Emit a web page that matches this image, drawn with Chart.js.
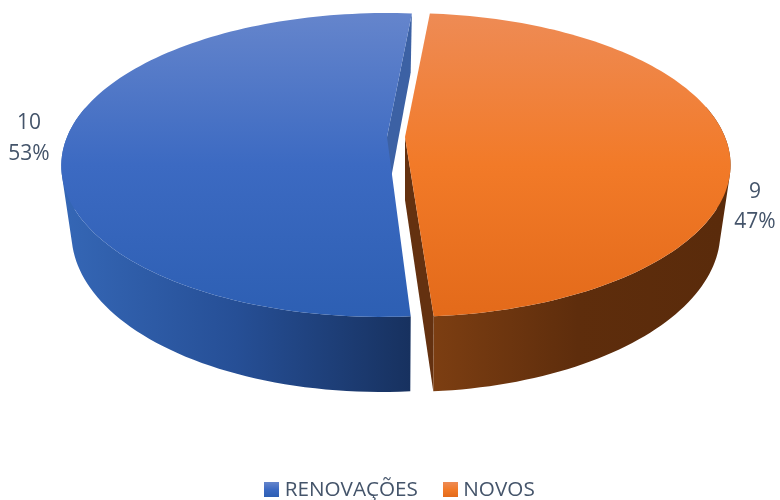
<!DOCTYPE html>
<html>
<head>
<meta charset="utf-8">
<script src="https://cdn.jsdelivr.net/npm/chart.js@4"></script>
<style>html,body{margin:0;padding:0;background:#fff}#wrap{width:780px;height:500px}</style>
</head>
<body>
<div id="wrap"><canvas id="c" width="780" height="500"></canvas></div>
<script>
const categories = ['RENOVAÇÕES', 'NOVOS'];
const seriesValues = [10, 9];
const baseColors = ['#3a6bc4', '#ed7d31'];

const FONT = '"Open Sans", "Noto Sans", sans-serif';
const TEXT = '#44546a';
const ROTATION = 175.8;
const top3d = {y0: 137, k: 146.8, p: -0.184, K: 320};
const bot3d = {y0: 200, k: 153.6, p: -0.2, K: 309};
const EXPLODE = 9, CENTER_SHIFT = -6;
const styles = [
  {top: [[0, '#6585cc'], [.5, '#3c6ac2'], [1, '#2d5fb3']],
   side: ['#3567b6', '#264f96', '#17315f'], sx: [61, 411], wall: '#3c61a4', frontShift: -5},
  {top: [[0, '#ee8b55'], [.5, '#f27a28'], [1, '#e36a1a']],
   side: ['#7c3e12', '#5e2d0c', '#5a2b0b'], sx: [434, 722], wall: '#643110', frontShift: 0}
];
const labelPos = [[29, 123, 154], [755, 192, 222]];

function pt(map, x0, a, shift) {
  const u = Math.sin(a), v = -Math.cos(a), d = 1 + map.p * v;
  const s = v > 0 ? shift * v * v : 0;
  return [x0 + s + map.K * u / d, map.y0 + map.k * v / d];
}
function addPoly(ctx, pts) {
  // every polygon gets the same winding so overlapping strips do not cancel out
  let area = 0;
  pts.forEach((p, i) => {
    const q = pts[(i + 1) % pts.length];
    area += p[0] * q[1] - q[0] * p[1];
  });
  const ordered = area < 0 ? pts.slice().reverse() : pts;
  ordered.forEach((p, i) => i ? ctx.lineTo(p[0], p[1]) : ctx.moveTo(p[0], p[1]));
  ctx.closePath();
}
function swatch(stops) {
  const c = document.createElement('canvas');
  c.width = c.height = 15;
  const g = c.getContext('2d'), gr = g.createLinearGradient(0, 0, 0, 15);
  stops.forEach(s => gr.addColorStop(s[0], s[1]));
  g.fillStyle = gr; g.fillRect(0, 0, 15, 15);
  return c;
}

const pie3d = {
  id: 'pie3d',
  beforeDatasetsDraw(chart) {
    const ctx = chart.ctx, meta = chart.getDatasetMeta(0);
    meta.data.forEach((el, i) => {
      const st = styles[i];
      const cx = el.x + CENTER_SHIFT;
      const s = el.startAngle + Math.PI / 2, e = el.endAngle + Math.PI / 2;
      const x0 = cx + EXPLODE * Math.sin((s + e) / 2);
      const n = 120, rimAngles = [];
      for (let j = 0; j <= n; j++) rimAngles.push(s + (e - s) * j / n);
      const T = a => pt(top3d, x0, a, st.frontShift), B = a => pt(bot3d, x0, a, st.frontShift);
      ctx.save();
      // radial wall that faces the viewer
      ctx.beginPath();
      addPoly(ctx, [[x0, top3d.y0], T(e), B(e), [x0, bot3d.y0]]);
      ctx.fillStyle = st.wall; ctx.fill();
      // outer cylindrical side, one path so the strips leave no seams
      const g = ctx.createLinearGradient(st.sx[0], 0, st.sx[1], 0);
      st.side.forEach((c, j) => g.addColorStop(j / (st.side.length - 1), c));
      ctx.beginPath();
      for (let j = 0; j < n; j++) {
        const a = rimAngles[j], b = rimAngles[j + 1];
        if (-Math.cos(a) < -0.2 && -Math.cos(b) < -0.2) continue;
        addPoly(ctx, [T(a), T(b), B(b), B(a)]);
      }
      ctx.fillStyle = g; ctx.fill('nonzero');
      // top surface
      const tg = ctx.createLinearGradient(0, 13, 0, 317);
      st.top.forEach(c => tg.addColorStop(c[0], c[1]));
      ctx.beginPath();
      addPoly(ctx, [[x0, top3d.y0]].concat(rimAngles.map(T)));
      ctx.fillStyle = tg; ctx.fill();
      ctx.restore();
    });
    // value + percentage labels
    const total = seriesValues.reduce((a, b) => a + b, 0);
    ctx.save();
    ctx.font = '21px ' + FONT; ctx.fillStyle = TEXT;
    ctx.textAlign = 'center'; ctx.textBaseline = 'middle';
    seriesValues.forEach((v, i) => {
      ctx.fillText(String(v), labelPos[i][0], labelPos[i][1]);
      ctx.fillText(Math.round(v / total * 100) + '%', labelPos[i][0], labelPos[i][2]);
    });
    ctx.restore();
    return false;
  }
};

const swatches = styles.map(s => swatch(s.top));
new Chart(document.getElementById('c'), {
  type: 'pie',
  data: {labels: categories, datasets: [{data: seriesValues, backgroundColor: baseColors, borderWidth: 0}]},
  options: {
    responsive: false,
    animation: false,
    rotation: ROTATION,
    layout: {padding: {left: 24, bottom: -10}},
    plugins: {
      tooltip: {enabled: false},
      legend: {
        position: 'bottom',
        labels: {
          usePointStyle: true, pointStyleWidth: 5, padding: 30,
          color: TEXT, font: {family: FONT, size: 20.7},
          generateLabels: c => Chart.overrides.pie.plugins.legend.labels.generateLabels(c)
            .map((l, i) => Object.assign(l, {pointStyle: swatches[i]}))
        }
      }
    }
  },
  plugins: [pie3d]
});
</script>
</body>
</html>
